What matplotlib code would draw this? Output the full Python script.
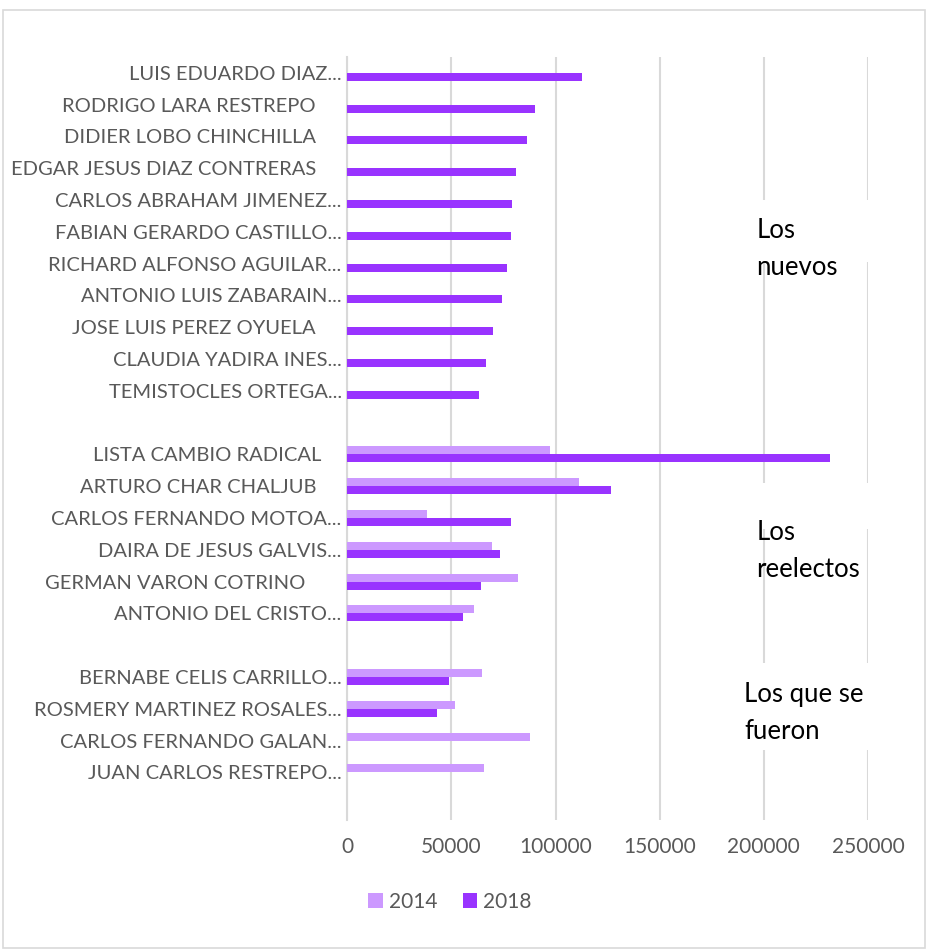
import numpy as np
import matplotlib
matplotlib.use("Agg")
import matplotlib.pyplot as plt
from matplotlib.patches import Rectangle

plt.rcParams['font.family'] = ['Lato', 'DejaVu Sans']

# categories top to bottom, "" rows are spacers between the groups
labels = [
    "LUIS EDUARDO DIAZ...", "RODRIGO LARA RESTREPO     ", "DIDIER LOBO CHINCHILLA     ",
    "EDGAR JESUS DIAZ CONTRERAS     ", "CARLOS ABRAHAM JIMENEZ...", "FABIAN GERARDO CASTILLO...",
    "RICHARD ALFONSO AGUILAR...", "ANTONIO LUIS ZABARAIN...", "JOSE LUIS PEREZ OYUELA     ",
    "CLAUDIA YADIRA INES...", "TEMISTOCLES ORTEGA...", "",
    "LISTA CAMBIO RADICAL    ", "ARTURO CHAR CHALJUB     ", "CARLOS FERNANDO MOTOA...",
    "DAIRA DE JESUS GALVIS...", "GERMAN VARON COTRINO       ", "ANTONIO DEL CRISTO...", "",
    "BERNABE CELIS CARRILLO...", "ROSMERY MARTINEZ ROSALES...", "CARLOS FERNANDO GALAN...",
    "JUAN CARLOS RESTREPO...", "",
]
nan = np.nan
votes_2014 = [nan, nan, nan, nan, nan, nan, nan, nan, nan, nan, nan, nan,
              97500, 111500, 38200, 69500, 82150, 60900, nan,
              64550, 51650, 87600, 65850, nan]
votes_2018 = [112500, 90100, 86500, 80900, 79100, 78800, 76550, 74500, 69850, 66500, 63450, nan,
              231700, 126550, 78800, 73500, 64400, 55450, nan,
              48900, 42850, nan, nan, nan]

fig = plt.figure(figsize=(9.3, 9.51), dpi=100)
ax = fig.add_axes([0.3734, 0.1377, 0.9333 - 0.3734, 0.9401 - 0.1377])

y = np.arange(len(labels))
h = 0.25
ax.barh(y - h / 2, votes_2014, height=h, color='#CC99FF', label='2014', zorder=3)
ax.barh(y + h / 2, votes_2018, height=h, color='#9933FF', label='2018', zorder=3)

ax.set_xlim(0, 250000)
ax.set_ylim(len(labels) - 0.5, -0.5)
ax.set_xticks(np.arange(0, 250001, 50000))
ax.set_yticks(y)
ax.set_yticklabels(labels, fontsize=14.5, color='#595959')
ax.tick_params(axis='x', labelsize=15, colors='#595959', length=0, pad=12)
ax.tick_params(axis='y', length=0, pad=4)
ax.grid(axis='x', color='#D9D9D9', linewidth=1.5, zorder=0)
for s in ['top', 'right', 'bottom']:
    ax.spines[s].set_visible(False)
ax.spines['left'].set_color('#D9D9D9')
ax.spines['left'].set_linewidth(1.5)

# white text boxes hiding the gridlines, as in the original
def note(txt, x_text, y_text, box):
    x0, x1, y0, y1 = box
    ax.add_patch(Rectangle((x0, y0), x1 - x0, y1 - y0, facecolor='white',
                           edgecolor='none', zorder=2, clip_on=False))
    ax.text(x_text, y_text, txt, fontsize=18.5, color='black', va='top',
            ha='left', linespacing=1.6, zorder=4)

note("Los\nnuevos", 196400, 4.55, (188000, 256000, 4.0, 5.95))
note("Los\nreelectos", 196400, 14.05, (188000, 256000, 12.9, 14.35))
note("Los que se\nfueron", 190500, 19.15, (186000, 275000, 18.55, 21.3))

ax.legend(loc='center', bbox_to_anchor=(450 / 930, 1 - 902 / 951),
          bbox_transform=fig.transFigure, ncol=2, frameon=False,
          fontsize=15, handlelength=0.7, handleheight=0.7, handletextpad=0.3,
          columnspacing=1.2, labelcolor='#595959')

fig.patches.append(Rectangle((3 / 930, 1 - 948 / 951), 922 / 930, 938 / 951,
                             transform=fig.transFigure, fill=False,
                             edgecolor='#D9D9D9', linewidth=1.2))

fig.savefig('out.png', dpi=100)
